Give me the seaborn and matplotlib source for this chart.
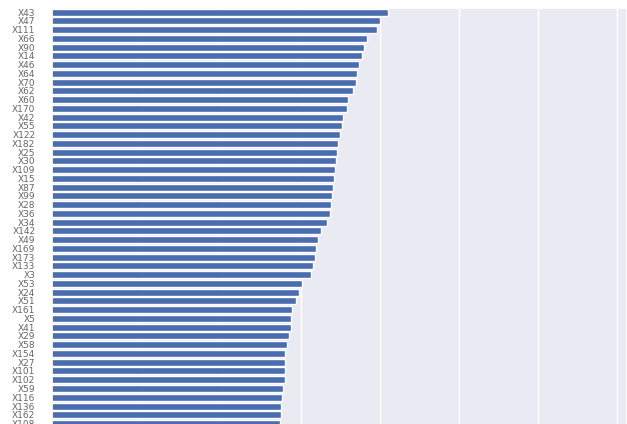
import matplotlib
matplotlib.use("Agg")
import matplotlib.pyplot as plt
import seaborn as sns
import pandas as pd

# Feature names, ordered by importance (highest first)
features = [
    "X43", "X47", "X111", "X66", "X90", "X14", "X46", "X64", "X70", "X62",
    "X60", "X170", "X42", "X55", "X122", "X182", "X25", "X30", "X109", "X15",
    "X87", "X99", "X28", "X36", "X34", "X142", "X49", "X169", "X173", "X133",
    "X3", "X53", "X24", "X51", "X161", "X5", "X41", "X29", "X58", "X154",
    "X27", "X101", "X102", "X59", "X116", "X136", "X162", "X108",
]

# Importance score of each feature
importance = [
    0.0510, 0.0500, 0.0496, 0.0484, 0.0480, 0.0477, 0.0473, 0.0471, 0.0470, 0.0466,
    0.0459, 0.0458, 0.0453, 0.0452, 0.0449, 0.0447, 0.0446, 0.0444, 0.0443, 0.0442,
    0.0441, 0.0439, 0.0438, 0.0437, 0.0433, 0.0425, 0.0422, 0.0419, 0.0418, 0.0415,
    0.0413, 0.0401, 0.0397, 0.0394, 0.0389, 0.0387, 0.0387, 0.0385, 0.0382, 0.0380,
    0.0380, 0.0380, 0.0380, 0.0377, 0.0376, 0.0375, 0.0375, 0.0373,
]

df = pd.DataFrame({"feature": features, "importance": importance})

sns.set_theme(style="darkgrid")

fig = plt.figure(figsize=(6.27, 4.24), dpi=100)
ax = fig.add_axes([0.083, -0.0092, 0.917, 0.9912])

sns.barplot(data=df, x="importance", y="feature", color="#4a6db0",
            saturation=1, ax=ax)

ax.set_xlim(0.00848, 0.08127)
ax.set_xticks([0.02, 0.03, 0.04, 0.05, 0.06, 0.07, 0.08])
ax.set_xlabel("")
ax.set_ylabel("")
ax.tick_params(axis="x", labelbottom=False)
ax.tick_params(axis="y", labelsize=6.5, labelcolor="#666666", pad=6)

fig.savefig("out.png", dpi=100)
